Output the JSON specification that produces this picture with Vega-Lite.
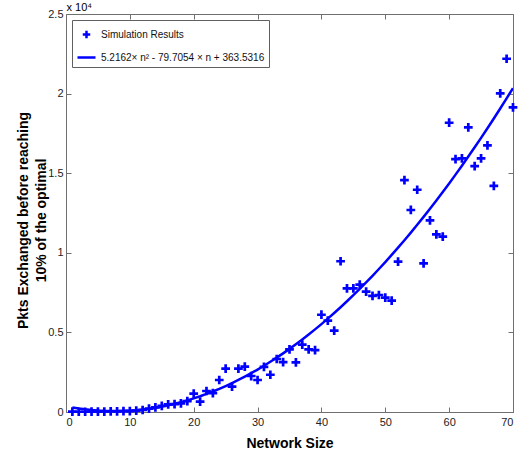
{
  "$schema": "https://vega.github.io/schema/vega-lite/v6.json",
  "width": 447,
  "height": 398,
  "autosize": {"type": "none"},
  "padding": {"left": 66, "top": 14, "right": 10, "bottom": 45},
  "background": "white",
  "config": {
    "view": {"stroke": null},
    "font": "Liberation Sans",
    "axis": {
      "grid": false,
      "domainColor": "#707070",
      "tickColor": "#707070",
      "domainWidth": 1,
      "tickWidth": 1,
      "labelFont": "Liberation Sans",
      "labelFontSize": 11,
      "labelColor": "#222",
      "titleFont": "Liberation Sans",
      "titleColor": "#000"
    }
  },
  "data": {
    "values": [
      {"n": 1, "pkts": 20, "fit": 289.0},
      {"n": 2, "pkts": 15, "fit": 225.0},
      {"n": 3, "pkts": 15, "fit": 171.4},
      {"n": 4, "pkts": 20, "fit": 128.2},
      {"n": 5, "pkts": 25, "fit": 95.4},
      {"n": 6, "pkts": 30, "fit": 73.1},
      {"n": 7, "pkts": 35, "fit": 61.2},
      {"n": 8, "pkts": 40, "fit": 59.7},
      {"n": 9, "pkts": 50, "fit": 68.7},
      {"n": 10, "pkts": 60, "fit": 88.1},
      {"n": 11, "pkts": 85, "fit": 117.9},
      {"n": 12, "pkts": 125, "fit": 158.2},
      {"n": 13, "pkts": 210, "fit": 208.9},
      {"n": 14, "pkts": 290, "fit": 270.0},
      {"n": 15, "pkts": 380, "fit": 341.6},
      {"n": 16, "pkts": 480, "fit": 423.6},
      {"n": 17, "pkts": 500, "fit": 516.0},
      {"n": 18, "pkts": 540, "fit": 618.9},
      {"n": 19, "pkts": 680, "fit": 732.2},
      {"n": 20, "pkts": 1150, "fit": 855.9},
      {"n": 21, "pkts": 650, "fit": 990.1},
      {"n": 22, "pkts": 1320, "fit": 1134.7},
      {"n": 23, "pkts": 1190, "fit": 1289.7},
      {"n": 24, "pkts": 2010, "fit": 1455.1},
      {"n": 25, "pkts": 2720, "fit": 1631.0},
      {"n": 26, "pkts": 1590, "fit": 1817.3},
      {"n": 27, "pkts": 2720, "fit": 2014.1},
      {"n": 28, "pkts": 2850, "fit": 2221.3},
      {"n": 29, "pkts": 2260, "fit": 2438.9},
      {"n": 30, "pkts": 2010, "fit": 2667.0},
      {"n": 31, "pkts": 2830, "fit": 2905.4},
      {"n": 32, "pkts": 2340, "fit": 3154.4},
      {"n": 33, "pkts": 3330, "fit": 3413.7},
      {"n": 34, "pkts": 3130, "fit": 3683.5},
      {"n": 35, "pkts": 3940, "fit": 3963.7},
      {"n": 36, "pkts": 3120, "fit": 4254.3},
      {"n": 37, "pkts": 4230, "fit": 4555.4},
      {"n": 38, "pkts": 3940, "fit": 4866.9},
      {"n": 39, "pkts": 3890, "fit": 5188.9},
      {"n": 40, "pkts": 6110, "fit": 5521.2},
      {"n": 41, "pkts": 5740, "fit": 5864.0},
      {"n": 42, "pkts": 5110, "fit": 6217.3},
      {"n": 43, "pkts": 9470, "fit": 6581.0},
      {"n": 44, "pkts": 7770, "fit": 6955.1},
      {"n": 45, "pkts": 7770, "fit": 7339.6},
      {"n": 46, "pkts": 8000, "fit": 7734.6},
      {"n": 47, "pkts": 7560, "fit": 8140.0},
      {"n": 48, "pkts": 7290, "fit": 8555.8},
      {"n": 49, "pkts": 7350, "fit": 8982.1},
      {"n": 50, "pkts": 7180, "fit": 9418.8},
      {"n": 51, "pkts": 6990, "fit": 9865.9},
      {"n": 52, "pkts": 9450, "fit": 10323.5},
      {"n": 53, "pkts": 14570, "fit": 10791.5},
      {"n": 54, "pkts": 12690, "fit": 11269.9},
      {"n": 55, "pkts": 13960, "fit": 11758.7},
      {"n": 56, "pkts": 9340, "fit": 12258.0},
      {"n": 57, "pkts": 12040, "fit": 12767.8},
      {"n": 58, "pkts": 11160, "fit": 13287.9},
      {"n": 59, "pkts": 11010, "fit": 13818.5},
      {"n": 60, "pkts": 18170, "fit": 14359.5},
      {"n": 61, "pkts": 15890, "fit": 14911.0},
      {"n": 62, "pkts": 15930, "fit": 15472.9},
      {"n": 63, "pkts": 17880, "fit": 16045.2},
      {"n": 64, "pkts": 15450, "fit": 16627.9},
      {"n": 65, "pkts": 15930, "fit": 17221.1},
      {"n": 66, "pkts": 16750, "fit": 17824.7},
      {"n": 67, "pkts": 14210, "fit": 18438.8},
      {"n": 68, "pkts": 20020, "fit": 19063.3},
      {"n": 69, "pkts": 22190, "fit": 19698.2},
      {"n": 70, "pkts": 19140, "fit": 20343.5}
    ]
  },
  "layer": [
    {
      "mark": {"type": "line", "strokeWidth": 2.5, "clip": true},
      "encoding": {
        "x": {
          "field": "n", "type": "quantitative",
          "scale": {"domain": [0, 70], "nice": false, "zero": false},
          "axis": {
            "orient": "bottom",
            "values": [0, 10, 20, 30, 40, 50, 60, 70],
            "tickSize": -5,
            "labelPadding": 9,
            "title": "Network Size",
            "titleFontSize": 14,
            "titleFontWeight": "bold",
            "titlePadding": 9
          }
        },
        "y": {
          "field": "fit", "type": "quantitative",
          "scale": {"domain": [0, 25000], "nice": false, "zero": false},
          "axis": {
            "orient": "left",
            "values": [0, 5000, 10000, 15000, 20000, 25000],
            "labelExpr": "datum.value / 10000",
            "tickSize": -5,
            "labelPadding": 8,
            "title": ["Pkts Exchanged before reaching", "10% of the optimal"],
            "titleFontSize": 14,
            "titleFontWeight": "bold",
            "titleX": -36,
            "titleY": 206,
            "titleBaseline": "bottom",
            "titleLineHeight": 18
          }
        },
        "color": {
          "datum": "5.2162× n² - 79.7054 × n + 363.5316",
          "type": "nominal",
          "scale": {
            "domain": ["Simulation Results", "5.2162× n² - 79.7054 × n + 363.5316"],
            "range": ["#0000ff", "#0000ff"]
          },
          "legend": {
            "title": null,
            "orient": "top-left",
            "offset": 6,
            "padding": 4,
            "strokeColor": "#606060",
            "fillColor": "white",
            "labelFont": "Liberation Sans",
            "labelFontSize": 10,
            "labelColor": "#111",
            "labelLimit": 400,
            "symbolSize": 196,
            "symbolStrokeWidth": 2.5,
            "rowPadding": 3,
            "labelOffset": 4,
            "encode": {
              "symbols": {
                "update": {
                  "shape": {"signal": "datum.value === 'Simulation Results' ? 'M-1,0H1M0,-1V1' : 'stroke'"},
                  "size": {"signal": "datum.value === 'Simulation Results' ? 56 : 324"},
                  "fill": {"value": "transparent"},
                  "stroke": {"value": "#0000ff"},
                  "strokeWidth": {"value": 2.5},
                  "opacity": {"value": 1}
                }
              }
            }
          }
        }
      }
    },
    {
      "mark": {"type": "point", "shape": "M-1,0H1M0,-1V1", "filled": false, "size": 76, "strokeWidth": 2.7, "opacity": 1},
      "encoding": {
        "x": {"field": "n", "type": "quantitative", "axis": null},
        "y": {"field": "pkts", "type": "quantitative", "axis": null},
        "color": {"datum": "Simulation Results", "type": "nominal"}
      }
    },
    {
      "mark": {"type": "point", "opacity": 0},
      "encoding": {
        "x": {
          "field": "n", "type": "quantitative",
          "axis": {
            "orient": "top",
            "values": [0, 10, 20, 30, 40, 50, 60, 70],
            "tickSize": -5,
            "labels": false,
            "title": "x 10⁴",
            "titleFontSize": 11,
            "titleFontWeight": "normal",
            "titleAnchor": "start",
            "titleAlign": "left",
            "titleX": 0,
            "titleY": -2,
            "titleBaseline": "bottom"
          }
        },
        "y": {
          "field": "pkts", "type": "quantitative",
          "axis": {
            "orient": "right",
            "values": [0, 5000, 10000, 15000, 20000, 25000],
            "tickSize": -5,
            "labels": false,
            "title": null
          }
        }
      }
    }
  ]
}
